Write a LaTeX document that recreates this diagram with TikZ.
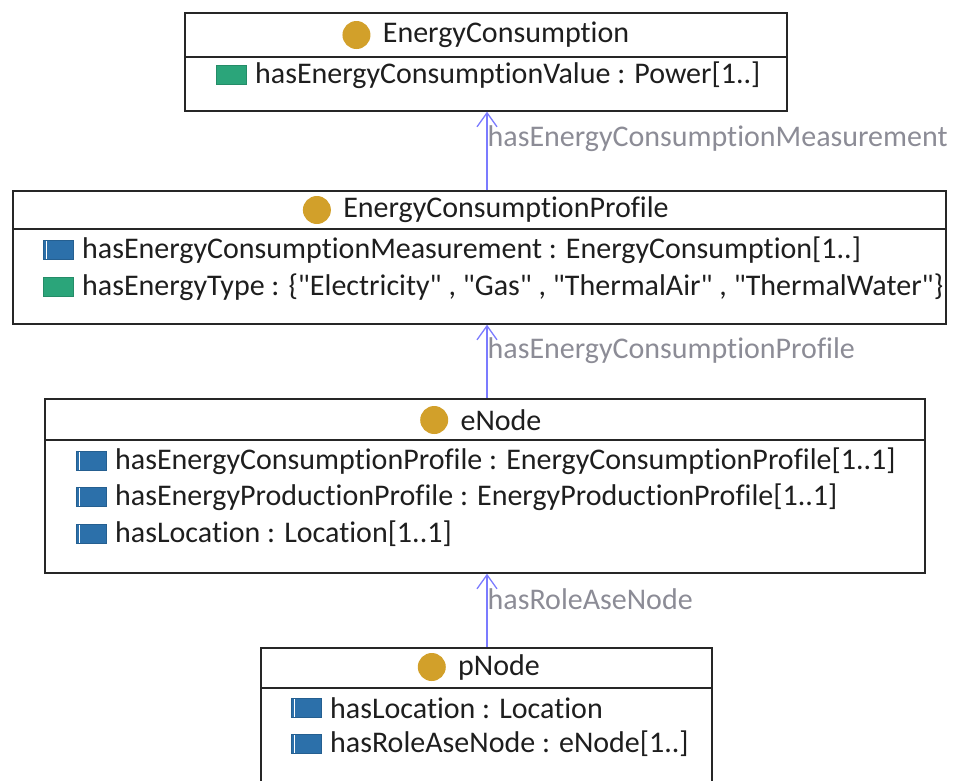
\documentclass[tikz,border=0pt]{standalone}
\usepackage{fontspec}
\setmainfont{Carlito}[Ligatures={NoCommon}]
\usetikzlibrary{positioning,arrows.meta}
\definecolor{dotgold}{HTML}{D2A02A}
\definecolor{propgreen}{HTML}{2BA57A}
\definecolor{propblue}{HTML}{2C70AA}
\definecolor{relblue}{HTML}{7B7BFF}
\definecolor{labelgray}{HTML}{8C8C96}
\definecolor{textdark}{HTML}{1E1E1E}
\newcommand{\qt}[1]{\textquotedbl#1\textquotedbl}
\tikzset{
    every node/.style={font=\fontsize{30}{36}\selectfont},
    classbox/.style={draw=black!85, line width=1.7pt, anchor=north west, inner sep=0pt},
    classline/.style={draw=black!85, line width=1.7pt},
    classdot/.style={circle, fill=dotgold, minimum size=28pt, inner sep=0pt},
    classname/.style={text=textdark, inner sep=0pt},
    attr/.style={anchor=west, text=textdark, inner sep=0pt},
    dataprop/.style={fill=propgreen, draw=propgreen!85!black, minimum width=30pt, minimum height=19pt, inner sep=0pt},
    objprop/.style={fill=propblue, draw=propblue!85!black, minimum width=30pt, minimum height=19pt, inner sep=0pt,
        path picture={\draw[white, line width=1.2pt] ([xshift=4pt]path picture bounding box.south west)
            -- ([xshift=4pt]path picture bounding box.north west);}},
    relation/.style={draw=relblue, line width=1.3pt, -{Straight Barb[length=14pt,width=20pt]}},
    rellabel/.style={text=labelgray, anchor=west, inner sep=0pt}
}
\begin{document}
\begin{tikzpicture}[x=1pt, y=-1pt]
    \useasboundingbox (0,0) rectangle (960,780);
    \clip (0,0) rectangle (960,780);

    %EnergyConsumption
    \node[classbox, minimum width=602pt, minimum height=98pt] (ec) at (184,12) {};
    \draw[classline] ([yshift=-45pt]ec.north west) -- ([yshift=-45pt]ec.north east);
    \node[classname] (ecname) at (506,35) {EnergyConsumption};
    \node[classdot, left=12pt of ecname] (ecdot) {};
    \node[attr] (ecvalue) at (255,75) {hasEnergyConsumptionValue : Power[1..]};
    \node[dataprop, left=9pt of ecvalue] {};

    %EnergyConsumptionProfile
    \node[classbox, minimum width=933pt, minimum height=133pt] (ecp) at (12,190) {};
    \draw[classline] ([yshift=-39pt]ecp.north west) -- ([yshift=-39pt]ecp.north east);
    \node[classname] (ecpname) at (506,210) {EnergyConsumptionProfile};
    \node[classdot, left=12pt of ecpname] (ecpdot) {};
    \node[attr] (ecpmeas) at (82,250) {hasEnergyConsumptionMeasurement : EnergyConsumption[1..]};
    \node[objprop, left=9pt of ecpmeas] {};
    \node[attr] (ecptype) at (82,287) {hasEnergyType : \{\qt{Electricity} , \qt{Gas} , \qt{ThermalAir} , \qt{ThermalWater}\}};
    \node[dataprop, left=9pt of ecptype] {};

    %eNode
    \node[classbox, minimum width=880pt, minimum height=174pt] (en) at (44,398) {};
    \draw[classline] ([yshift=-42pt]en.north west) -- ([yshift=-42pt]en.north east);
    \node[classname] (enname) at (501,420) {eNode};
    \node[classdot, left=12pt of enname] (endot) {};
    \node[attr] (enprof) at (115,461) {hasEnergyConsumptionProfile : EnergyConsumptionProfile[1..1]};
    \node[objprop, left=9pt of enprof] {};
    \node[attr] (enprod) at (115,497) {hasEnergyProductionProfile : EnergyProductionProfile[1..1]};
    \node[objprop, left=9pt of enprod] {};
    \node[attr] (enloc) at (115,534) {hasLocation : Location[1..1]};
    \node[objprop, left=9pt of enloc] {};

    %pNode
    \node[classbox, minimum width=451pt, minimum height=150pt] (pn) at (260,647) {};
    \draw[classline] ([yshift=-41pt]pn.north west) -- ([yshift=-41pt]pn.north east);
    \node[classname] (pnname) at (499,667) {pNode};
    \node[classdot, left=12pt of pnname] (pndot) {};
    \node[attr] (pnloc) at (330,708) {hasLocation : Location};
    \node[objprop, left=9pt of pnloc] {};
    \node[attr] (pnrole) at (330,744) {hasRoleAseNode : eNode[1..]};
    \node[objprop, left=9pt of pnrole] {};

    %Relations
    \coordinate (axis) at (487,0);
    \draw[relation] (ecp.north -| axis) -- node[rellabel, pos=0.65] {hasEnergyConsumptionMeasurement} (ec.south -| axis);
    \draw[relation] (en.north -| axis) -- node[rellabel, pos=0.65] {hasEnergyConsumptionProfile} (ecp.south -| axis);
    \draw[relation] (pn.north -| axis) -- node[rellabel, pos=0.65] {hasRoleAseNode} (en.south -| axis);
\end{tikzpicture}
\end{document}
